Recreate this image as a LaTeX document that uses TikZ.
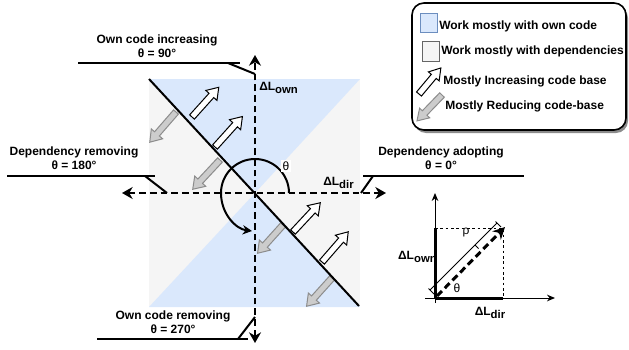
\documentclass[tikz,border=0pt]{standalone}
\usepackage{fontspec}
\setmainfont{Liberation Sans}
\usetikzlibrary{arrows.meta}
\definecolor{blueF}{HTML}{DAE8FC}
\definecolor{blueS}{HTML}{6C8EBF}
\definecolor{grayF}{HTML}{F5F5F5}
\definecolor{grayS}{HTML}{666666}
\definecolor{arrG}{HTML}{CCCCCC}
\definecolor{arrGS}{HTML}{8C8C8C}
\newcommand\BArrow[6]{%
  \begin{scope}[shift={#2},rotate=#3]
    \draw[#1] (0,-3.2) -- (#4-#5,-3.2) -- (#4-#5,-#6) -- (#4,0) -- (#4-#5,#6) -- (#4-#5,3.2) -- (0,3.2) -- cycle;
  \end{scope}}
\newcommand\subtx[1]{\raisebox{-2.5pt}{\fontsize{8.5}{8.5}\selectfont #1}}
\begin{document}
\begin{tikzpicture}[x=0.75pt,y=-0.75pt,
  font=\fontsize{9}{10.5}\selectfont\bfseries,
  axisline/.style={line width=1.5pt, dash pattern=on 5pt off 3pt,
    {Stealth[length=8pt,width=9pt]}-{Stealth[length=8pt,width=9pt]}},
  callout/.style={line width=1.5pt},
  lbl/.style={align=center, inner sep=0pt},
  wharrow/.style={draw=black, fill=white, line width=0.75pt, line join=miter},
  grarrow/.style={draw=arrGS, fill=arrG, line width=0.75pt, line join=miter},
  thinax/.style={line width=0.75pt, -{Stealth[length=6pt,width=5pt]}},
  plain/.style={font=\fontsize{9}{9}\selectfont\mdseries, inner sep=1pt},
  legtxt/.style={anchor=west, inner sep=0pt}
  ]
\useasboundingbox (0,0) rectangle (629,350);
% background regions
\coordinate (O) at (255,193);
\fill[grayF] (149,79) rectangle (360,307);
\fill[blueF] (149,79) -- (360,79) -- (O) -- cycle;
\fill[blueF] (149,307) -- (360,307) -- (O) -- cycle;
% block arrows
\BArrow{wharrow}{(192,117)}{48}{40}{11}{7.5}
\BArrow{wharrow}{(215,147)}{48}{41}{11}{7.5}
\BArrow{wharrow}{(293,232)}{47}{40}{11}{7.5}
\BArrow{wharrow}{(322,262)}{49}{40}{11}{7.5}
\BArrow{grarrow}{(176,112)}{229}{40}{11}{7.5}
\BArrow{grarrow}{(220,160)}{227}{40}{11}{7.5}
\BArrow{grarrow}{(283,225)}{228}{38}{11}{7.5}
\BArrow{grarrow}{(332,278)}{228}{38}{11}{7.5}
% diagonal
\coordinate (dTL) at (149,79);
\coordinate (dBR) at (359,306);
\draw[line width=1.5pt] (dTL) -- (dBR);
% axes
\coordinate (yTop) at (255,55);
\coordinate (yBot) at (255,343);
\coordinate (xL) at (122,193);
\coordinate (xR) at (386,193);
\draw[axisline] (yBot) -- (yTop);
\draw[axisline] (xL) -- (xR);
% callouts
\coordinate (t1) at (78,63);  \coordinate (t2) at (240,63);
\coordinate (t3) at (228,63); \coordinate (t4) at (255,74);
\draw[callout] (t1) -- (t2); \draw[callout] (t3) -- (t4);
\coordinate (l1) at (7,176);  \coordinate (l2) at (155,176);
\coordinate (l3) at (145,176); \coordinate (l4) at (167,193);
\draw[callout] (l1) -- (l2); \draw[callout] (l3) -- (l4);
\coordinate (r1) at (363,176); \coordinate (r2) at (524,176);
\coordinate (r3) at (373,176); \coordinate (r4) at (361,193);
\draw[callout] (r1) -- (r2); \draw[callout] (r3) -- (r4);
\coordinate (b1) at (97,339);  \coordinate (b2) at (248,339);
\coordinate (b3) at (238,339); \coordinate (b4) at (255,317);
\draw[callout] (b1) -- (b2); \draw[callout] (b3) -- (b4);
% callout labels
\node[lbl] (ltop) at (157,46) {Own code increasing\\θ = 90°};
\node[lbl] (lleft) at (74,158) {Dependency removing\\θ = 180°};
\node[lbl] (lright) at (441,158) {Dependency adopting\\θ = 0°};
\node[lbl] (lbot) at (173,322.5) {Own code removing\\θ = 270°};
% axis labels
\node[anchor=west, inner sep=0pt] (lown) at (259,88) {ΔL\subtx{own}};
\node[anchor=west, inner sep=0pt] (ldir) at (323,183) {ΔL\subtx{dir}};
% theta arc
\coordinate (a0) at (289,193);
\coordinate (aEnd) at (252,231);
\draw[line width=1.5pt, -{Stealth[length=7pt,width=7pt]}] (a0) arc[start angle=0,end angle=180,radius=25.5pt]
  .. controls (221,214) and (236,229) .. (aEnd);
\node[plain, fill=white] (th) at (286,166) {θ};
% legend
\fill[black!45, rounded corners=9pt] (414,6) rectangle (628,133);
\draw[line width=1.2pt, fill=white, rounded corners=9pt] (412,3) rectangle (626,130);
\draw[blueS, fill=blueF, line width=0.75pt] (420,13) rectangle (437,32);
\draw[grayS, fill=grayF, line width=0.75pt] (422,41) rectangle (439,61);
\BArrow{wharrow}{(419,94)}{50}{34}{11}{7}
\BArrow{grarrow}{(442,95)}{226}{36}{11}{7}
\node[legtxt] (lg1) at (439,26.5) {Work mostly with own code};
\node[legtxt] (lg2) at (441,51.5) {Work mostly with dependencies};
\node[legtxt] (lg3) at (443,81) {Mostly Increasing code base};
\node[legtxt] (lg4) at (445,106) {Mostly Reducing code-base};
% inset
\coordinate (iy0) at (435,303); \coordinate (iy1) at (435,193);
\coordinate (ix0) at (425,298); \coordinate (ix1) at (555,298);
\draw[thinax] (iy0) -- (iy1);
\draw[thinax] (ix0) -- (ix1);
\node[anchor=east, inner sep=0pt] (iown) at (437,257) {ΔL\subtx{own}};
\coordinate (iTL) at (435,228); \coordinate (iBL) at (435,298);
\coordinate (iBR) at (503,298); \coordinate (iTR) at (503,228);
\draw[line width=0.6pt, dash pattern=on 2pt off 2pt] (iTL) -- (iTR) -- (iBR);
\draw[line width=2.25pt] (iTL) -- (iBL);
\draw[line width=2.25pt] (iBL) -- (iBR);
\coordinate (iv0) at (437,296); \coordinate (iv1) at (505,227);
\draw[line width=2.25pt, dash pattern=on 5.25pt off 3pt, -{Stealth[length=9pt,width=9pt]}] (iv0) -- (iv1);
\coordinate (dm0) at (430,290); \coordinate (dm1) at (497,223);
\draw[line width=0.6pt] (dm0) -- (dm1);
\draw[line width=0.6pt] (dm0) ++(-1.5,-1.5) -- ++(5.5,5.5);
\draw[line width=0.6pt] (dm1) ++(-1.5,-1.5) -- ++(5.5,5.5);
\draw[line width=0.6pt] (475,245) -- ++(3.5,3.5);
\node[plain] (rho) at (466,233) {ρ};
\node[plain] (ith) at (457,288) {θ};
\node[inner sep=0pt] (idir) at (490,313) {ΔL\subtx{dir}};
\end{tikzpicture}
\end{document}
